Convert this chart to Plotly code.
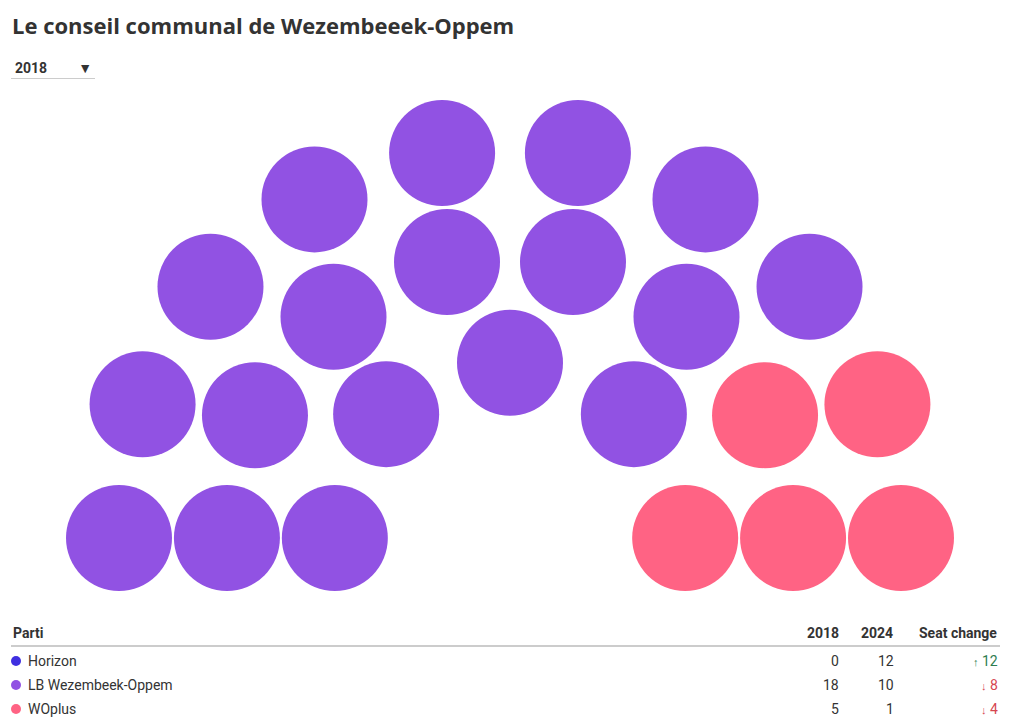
import math
import plotly.graph_objects as go

# ---- data ----
title_text = "Le conseil communal de Wezembeeek-Oppem"
parties = ["Horizon", "LB Wezembeek-Oppem", "WOplus"]
seats_2018 = [0, 18, 5]
seats_2024 = [12, 10, 1]
party_colors = ["#3f2fe0", "#9152e3", "#ff6384"]
years = ["2018", "2024"]

# ---- layout params ----
W, H = 1020, 728
ring_counts = [5, 8, 10]            # seats per ring (inner -> outer)
ring_radii = [0.448, 0.724, 1.0]    # relative to outer ring
px_per_unit = 391.0
center_px = (510, 538)              # hemicycle centre in px (from top-left)
seat_diam_px = 106
FONT = "Roboto"
TITLE_FONT = "Open Sans"
TXT = "#333333"

# seat positions from ring layout
seats = []
for n, r in zip(ring_counts, ring_radii):
    for i in range(n):
        a = math.pi - i * math.pi / (n - 1)
        seats.append((a, r, r * math.cos(a), r * math.sin(a)))
seats.sort(key=lambda s: (-round(s[0], 6), s[1]))
xs = [s[2] for s in seats]
ys = [s[3] for s in seats]


def seat_colors(counts):
    cols = []
    for c, col in zip(counts, party_colors):
        cols += [col] * c
    return cols


fig = go.Figure()
fig.add_trace(go.Scatter(
    x=xs, y=ys, mode="markers",
    marker=dict(size=seat_diam_px, color=seat_colors(seats_2018), line=dict(width=0)),
    hoverinfo="skip", showlegend=False,
))

x0 = -center_px[0] / px_per_unit
x1 = (W - center_px[0]) / px_per_unit
y0 = -(H - center_px[1]) / px_per_unit
y1 = center_px[1] / px_per_unit


def px(x):
    return x / W


def py(y):
    return 1 - y / H


def note(text, x, y, anchor, size=14, color=TXT, family=FONT):
    return dict(text=text, x=px(x), y=py(y), xref="paper", yref="paper",
                xanchor=anchor, yanchor="middle", showarrow=False,
                font=dict(size=size, color=color, family=family))


annotations = [
    note(f"<b>{title_text}</b>", 10, 25, "left", size=22, family=TITLE_FONT),
    note("<b>Parti</b>", 11, 633, "left"),
    note(f"<b>{years[0]}</b>", 841, 633, "right"),
    note(f"<b>{years[1]}</b>", 895, 633, "right"),
    note("<b>Seat change</b>", 999, 633, "right"),
]
shapes = [
    dict(type="line", xref="paper", yref="paper", x0=px(11), x1=px(1000), y0=py(646), y1=py(646),
         line=dict(color="#999999", width=1)),
    dict(type="line", xref="paper", yref="paper", x0=px(11), x1=px(95), y0=py(78.5), y1=py(78.5),
         line=dict(color="#cccccc", width=1)),
]
row_y = [661, 685, 709]
for name, a, b, col, yy in zip(parties, seats_2018, seats_2024, party_colors, row_y):
    shapes.append(dict(type="circle", xref="paper", yref="paper",
                       x0=px(11), x1=px(21), y0=py(yy + 5), y1=py(yy - 5),
                       fillcolor=col, line=dict(width=0)))
    annotations.append(note(name, 26, yy, "left"))
    annotations.append(note(str(a), 841, yy, "right"))
    annotations.append(note(str(b), 896, yy, "right"))
    d = b - a
    if d > 0:
        txt, ccol = f"<span style='font-size:11px'>↑</span> {d}", "#2e7d4f"
    elif d < 0:
        txt, ccol = f"<span style='font-size:11px'>↓</span> {abs(d)}", "#d64550"
    else:
        txt, ccol = "0", TXT
    annotations.append(note(txt, 1000, yy, "right", color=ccol))

pad_label = "\u00a0" * 6
fig.update_layout(
    width=W, height=H,
    margin=dict(l=0, r=0, t=0, b=0),
    paper_bgcolor="white", plot_bgcolor="white",
    xaxis=dict(range=[x0, x1], visible=False, fixedrange=True),
    yaxis=dict(range=[y0, y1], visible=False, fixedrange=True),
    annotations=annotations,
    shapes=shapes,
    font=dict(family=FONT, color=TXT),
    updatemenus=[dict(
        type="dropdown", direction="down",
        x=px(3), y=py(53), xanchor="left", yanchor="top",
        bgcolor="rgba(255,255,255,0)", bordercolor="rgba(255,255,255,0)", borderwidth=0,
        font=dict(size=14, color=TXT, family=FONT),
        pad=dict(l=0, r=0, t=0, b=0),
        showactive=False,
        buttons=[
            dict(label=f"<b>{years[0]}</b>{pad_label}", method="restyle",
                 args=[{"marker.color": [seat_colors(seats_2018)]}]),
            dict(label=f"<b>{years[1]}</b>{pad_label}", method="restyle",
                 args=[{"marker.color": [seat_colors(seats_2024)]}]),
        ],
    )],
)

fig.write_html("out.html", config={"displayModeBar": False},
               post_script="document.body.style.margin='0';")
